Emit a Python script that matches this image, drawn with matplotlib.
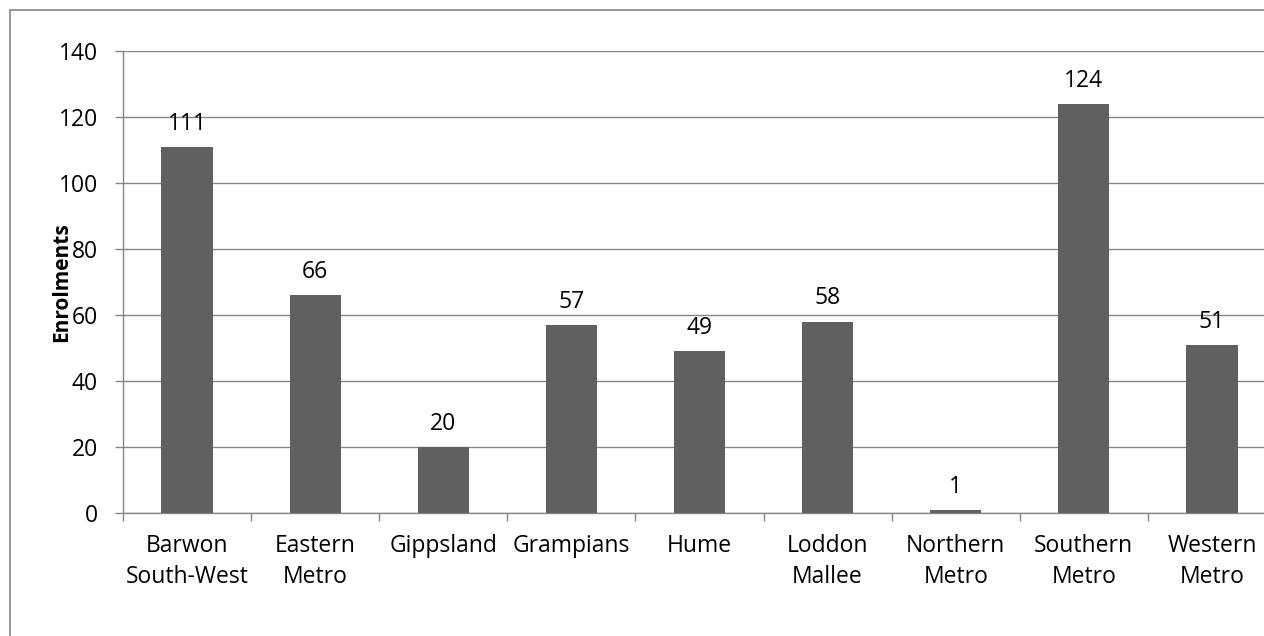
import matplotlib
matplotlib.use("Agg")
import matplotlib.pyplot as plt
from matplotlib.patches import Rectangle
import numpy as np

regions = ["Barwon\nSouth-West", "Eastern\nMetro", "Gippsland", "Grampians", "Hume",
           "Loddon\nMallee", "Northern\nMetro", "Southern\nMetro", "Western\nMetro"]
enrolments = [111, 66, 20, 57, 49, 58, 1, 124, 51]
yticks = [0, 20, 40, 60, 80, 100, 120, 140]

plt.rcParams['font.family'] = ['Open Sans', 'DejaVu Sans']
grey = "#868686"
fs = 16.5

fig = plt.figure(figsize=(12.64, 6.36), dpi=100)
ax = fig.add_axes([123/1264, 1-513/636, 1153/1264, 462/636])

x = np.arange(len(regions))
ax.bar(x, enrolments, width=0.4, color="#606060", zorder=3)
for xi, v in zip(x, enrolments):
    ax.annotate(str(v), (xi, v), xytext=(0, 8), textcoords="offset points",
                ha="center", va="bottom", fontsize=fs)

ax.set_xlim(-0.5, len(regions) - 0.5)
ax.set_ylim(0, 140)
ax.set_yticks(yticks)
ax.yaxis.grid(True, color=grey, lw=1.0, zorder=0)

ax.set_xticks(x)
ax.set_xticklabels(regions, fontsize=fs, linespacing=1.4)
ax.set_xticks(np.arange(len(regions) + 1) - 0.5, minor=True)
ax.tick_params(axis="x", which="major", length=0, pad=15)
ax.tick_params(axis="x", which="minor", length=6, color=grey, width=1.0)
ax.tick_params(axis="y", length=6, color=grey, width=1.0, labelsize=fs, pad=12)

for s in ["top", "right"]:
    ax.spines[s].set_visible(False)
for s in ["left", "bottom"]:
    ax.spines[s].set_color(grey)
    ax.spines[s].set_linewidth(1.0)

fig.text(62/1264, 1-282/636, "Enrolments", rotation=90, ha="center", va="center",
         fontsize=15, fontweight="bold")

# outer chart border
fig.patches.append(Rectangle((10/1264, -0.1), 1.2, 1.1 - 10/636, transform=fig.transFigure,
                             fill=False, edgecolor=grey, lw=1.2, clip_on=False))

fig.savefig("out.png", dpi=100)
